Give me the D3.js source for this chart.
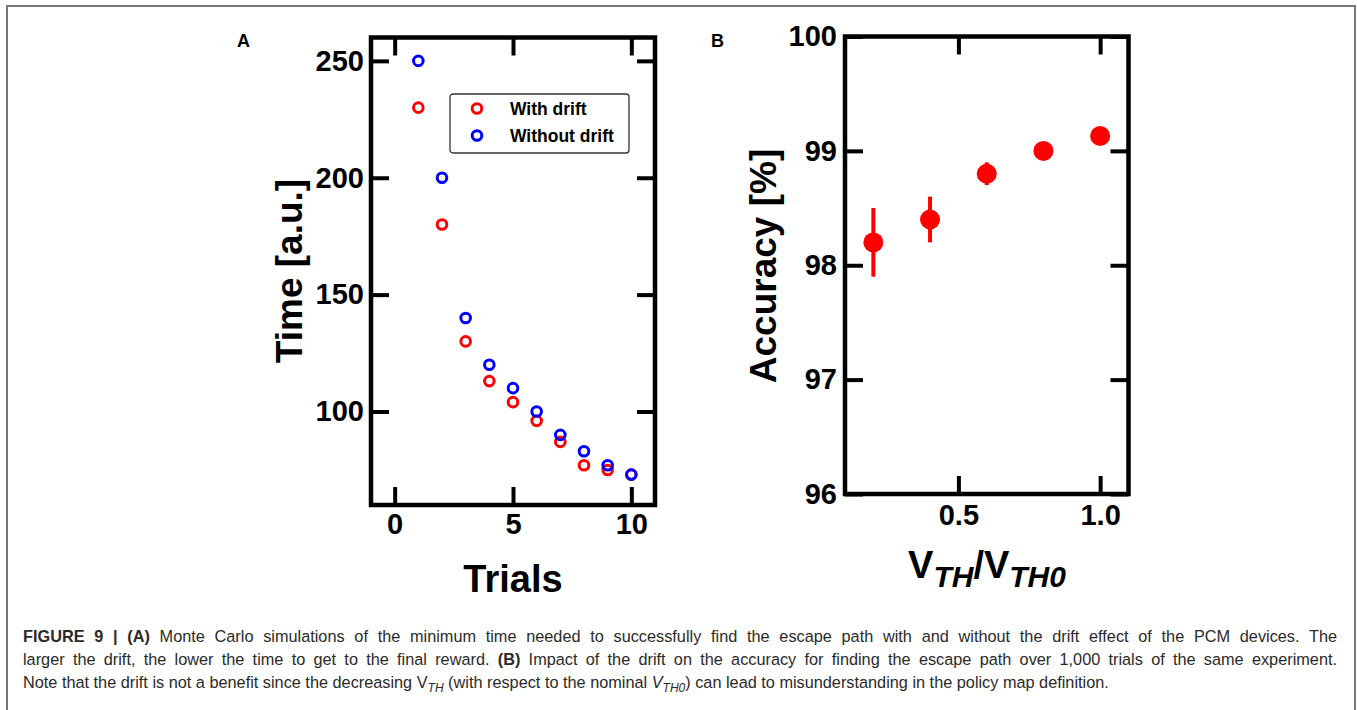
<!DOCTYPE html>
<html>
<head>
<meta charset="utf-8">
<script src="https://cdn.jsdelivr.net/npm/d3@7"></script>
<style>
  body { margin: 0; background: #fff; }
  svg { display: block; }
</style>
</head>
<body>
<svg id="fig"></svg>
<script>
// panel A: time per trial
let trials = [1, 2, 3, 4, 5, 6, 7, 8, 9, 10];
let time_with_drift = [230, 180, 130, 113, 104, 96, 87, 77, 75, 73];
let time_without_drift = [250, 200, 140, 120, 110, 100, 90, 83, 77, 73];
let legend_labels = ["With drift", "Without drift"];
let time_ticks = [100, 150, 200, 250];
let trial_ticks = [0, 5, 10];

// panel B: accuracy vs threshold ratio
let vth_ratio = [0.2, 0.4, 0.6, 0.8, 1.0];
let accuracy = [98.2, 98.4, 98.8, 99.0, 99.13];
let accuracy_err = [0.3, 0.2, 0.1, 0.04, 0.03];
let accuracy_ticks = [96, 97, 98, 99, 100];
let ratio_ticks = [0.5, 1.0];

const W = 1357, H = 710;
const TICK = 18;
const FONT = "'Liberation Sans', Arial, Helvetica, sans-serif";

let svg = d3.select('#fig').attr('width', W).attr('height', H);

// outer figure frame
svg.append('rect')
    .attr('x', 7).attr('y', 6).attr('width', 1348).attr('height', 740)
    .attr('fill', 'none').attr('stroke', '#777').attr('stroke-width', 2);

// 画一个带四边刻度的方框
function draw_panel(opt) {
    let x = d3.scaleLinear(opt.xDomain, [opt.left, opt.right]);
    let y = d3.scaleLinear(opt.yDomain, [opt.bottom, opt.top]);
    let g = svg.append('g');

    g.append('g').attr('transform', `translate(0,${opt.bottom})`)
        .call(d3.axisBottom(x).tickValues(opt.xTicks).tickFormat(opt.xFmt)
            .tickSizeInner(-TICK).tickSizeOuter(0).tickPadding(opt.xPad));
    g.append('g').attr('transform', `translate(0,${opt.top})`)
        .call(d3.axisTop(x).tickValues(opt.xTicks).tickFormat('')
            .tickSizeInner(-TICK).tickSizeOuter(0));
    g.append('g').attr('transform', `translate(${opt.left},0)`)
        .call(d3.axisLeft(y).tickValues(opt.yTicks).tickFormat(opt.yFmt)
            .tickSizeInner(-TICK).tickSizeOuter(0).tickPadding(opt.yPad));
    g.append('g').attr('transform', `translate(${opt.right},0)`)
        .call(d3.axisRight(y).tickValues(opt.yTicks).tickFormat('')
            .tickSizeInner(-TICK).tickSizeOuter(0));

    g.selectAll('.domain').remove();
    g.selectAll('.tick line').attr('stroke', '#000').attr('stroke-width', 4);
    g.selectAll('.tick text')
        .attr('font-family', FONT).attr('font-size', 29)
        .attr('font-weight', 'bold').attr('fill', '#000');

    g.append('rect')
        .attr('x', opt.left).attr('y', opt.top)
        .attr('width', opt.right - opt.left).attr('height', opt.bottom - opt.top)
        .attr('fill', 'none').attr('stroke', '#000').attr('stroke-width', 4.5);

    return { x, y, g };
}

function add_text(txt, x, y, size, opts = {}) {
    let t = svg.append('text')
        .attr('x', x).attr('y', y)
        .attr('font-family', FONT).attr('font-size', size)
        .attr('font-weight', opts.weight || 'bold')
        .attr('text-anchor', opts.anchor || 'start')
        .attr('fill', '#000')
        .text(txt);
    if (opts.rotate) {
        t.attr('x', 0).attr('y', 0)
            .attr('transform', `translate(${x},${y}) rotate(-90)`);
    }
    return t;
}

// ---------- Panel A ----------
let A = draw_panel({
    left: 371, right: 655, top: 37.5, bottom: 505,
    xDomain: [-1, 11], yDomain: [60, 260],
    xTicks: trial_ticks, yTicks: time_ticks,
    xFmt: d3.format('d'), yFmt: d3.format('d'),
    xPad: 8, yPad: 7
});

let series_a = [
    { name: legend_labels[0], color: '#ff0000', values: time_with_drift },
    { name: legend_labels[1], color: '#0000ff', values: time_without_drift }
];

series_a.forEach(s => {
    A.g.append('g').selectAll('circle')
        .data(trials)
        .join('circle')
        .attr('cx', d => A.x(d))
        .attr('cy', (d, i) => A.y(s.values[i]))
        .attr('r', 4.8)
        .attr('fill', 'none')
        .attr('stroke', s.color)
        .attr('stroke-width', 3);
});

// legend
let leg = A.g.append('g').attr('transform', 'translate(450,94)');
leg.append('rect')
    .attr('width', 179).attr('height', 59).attr('rx', 3)
    .attr('fill', '#fff').attr('stroke', '#333').attr('stroke-width', 1.3);
series_a.forEach((s, i) => {
    leg.append('circle')
        .attr('cx', 27).attr('cy', 14.5 + i * 27).attr('r', 4.8)
        .attr('fill', 'none').attr('stroke', s.color).attr('stroke-width', 3);
    leg.append('text')
        .attr('x', 60).attr('y', 20.5 + i * 27)
        .attr('font-family', FONT).attr('font-size', 17.5).attr('font-weight', 'bold')
        .text(s.name);
});

add_text('Time [a.u.]', 302, 271, 37, { anchor: 'middle', rotate: true });
add_text('Trials', 513, 592, 38, { anchor: 'middle' });
add_text('A', 237, 47, 18);

// ---------- Panel B ----------
let B = draw_panel({
    left: 845, right: 1128.5, top: 36.5, bottom: 494,
    xDomain: [0.1, 1.1], yDomain: [96, 100],
    xTicks: ratio_ticks, yTicks: accuracy_ticks,
    xFmt: d3.format('.1f'), yFmt: d3.format('d'),
    xPad: 10, yPad: 8
});

let pts = vth_ratio.map((v, i) => ({ v, acc: accuracy[i], err: accuracy_err[i] }));

B.g.append('g').selectAll('line')
    .data(pts)
    .join('line')
    .attr('x1', d => B.x(d.v)).attr('x2', d => B.x(d.v))
    .attr('y1', d => B.y(d.acc - d.err)).attr('y2', d => B.y(d.acc + d.err))
    .attr('stroke', '#ff0000').attr('stroke-width', 4);

B.g.append('g').selectAll('circle')
    .data(pts)
    .join('circle')
    .attr('cx', d => B.x(d.v))
    .attr('cy', d => B.y(d.acc))
    .attr('r', 10)
    .attr('fill', '#ff0000');

add_text('Accuracy [%]', 776, 266, 37, { anchor: 'middle', rotate: true });
add_text('B', 711, 47, 18);

let xt = svg.append('text')
    .attr('x', 987).attr('y', 578)
    .attr('text-anchor', 'middle')
    .attr('font-family', FONT).attr('font-weight', 'bold').attr('font-size', 38);
xt.append('tspan').text('V');
xt.append('tspan').attr('font-style', 'italic').attr('font-size', 30).attr('dy', 9).text('TH');
xt.append('tspan').attr('dy', -9).text('/V');
xt.append('tspan').attr('font-style', 'italic').attr('font-size', 30).attr('dy', 9).text('TH0');

// ---------- caption ----------
let caption_lines = [
    [{ t: 'FIGURE 9 | (A)', b: true }, { t: ' Monte Carlo simulations of the minimum time needed to successfully find the escape path with and without the drift effect of the PCM devices. The' }],
    [{ t: 'larger the drift, the lower the time to get to the final reward. ' }, { t: '(B)', b: true }, { t: ' Impact of the drift on the accuracy for finding the escape path over 1,000 trials of the same experiment.' }],
    [{ t: 'Note that the drift is not a benefit since the decreasing V' }, { t: 'TH', sub: true, i: true },
     { t: ' (with respect to the nominal ' }, { t: 'V', i: true }, { t: 'TH0', sub: true, i: true },
     { t: ') can lead to misunderstanding in the policy map definition.' }]
];
let cap_left = 23, cap_right = 1337;
let cap_base = [642, 665, 688];

caption_lines.forEach((parts, li) => {
    let t = svg.append('text')
        .attr('x', cap_left).attr('y', cap_base[li])
        .attr('font-family', FONT).attr('font-size', 16.3)
        .attr('fill', '#2a2a2a');
    let shifted = false;
    parts.forEach(p => {
        let ts = t.append('tspan').text(p.t);
        if (p.b) ts.attr('font-weight', 'bold');
        if (p.i) ts.attr('font-style', 'italic');
        if (p.sub) {
            ts.attr('font-size', 12).attr('dy', 4);
            shifted = true;
        } else if (shifted) {
            ts.attr('dy', -4);
            shifted = false;
        }
    });
    // justify the first two lines
    if (li < 2) {
        let natural = t.node().getComputedTextLength();
        let spaces = parts.map(p => p.t).join('').split(' ').length - 1;
        t.attr('word-spacing', (cap_right - cap_left - natural) / spaces);
    }
});
</script>
</body>
</html>
